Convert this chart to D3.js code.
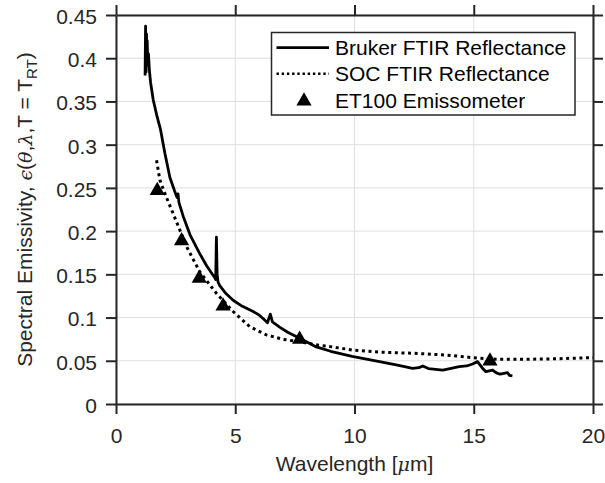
<!DOCTYPE html>
<html>
<head>
<meta charset="utf-8">
<script src="https://cdn.jsdelivr.net/npm/d3@7"></script>
<style>
  html, body { margin: 0; padding: 0; background: #fff; }
  svg { display: block; font-family: "Liberation Sans", Arial, Helvetica, sans-serif; }
</style>
</head>
<body>
<svg id="chart" width="605" height="483"></svg>
<script>
// ---- Data ----
const brukerWavelength = [1.22, 1.24, 1.26, 1.28, 1.29, 1.31, 1.33, 1.36, 1.40, 1.45, 1.56, 1.70, 1.87, 2.05, 2.26, 2.45, 2.56, 2.60, 2.64, 2.82, 3.10, 3.51, 3.80, 4.14, 4.18, 4.21, 4.24, 4.28, 4.35, 4.60, 4.91, 5.30, 5.75, 6.00, 6.20, 6.35, 6.47, 6.56, 6.86, 7.20, 7.70, 8.40, 9.00, 9.90, 11.05, 11.80, 12.44, 12.70, 12.86, 13.10, 13.70, 14.00, 14.39, 14.70, 14.95, 15.16, 15.35, 15.51, 15.79, 15.95, 16.07, 16.20, 16.42, 16.50, 16.62];
const brukerEmissivity = [0.380, 0.437, 0.384, 0.428, 0.392, 0.420, 0.394, 0.405, 0.386, 0.372, 0.352, 0.335, 0.317, 0.290, 0.262, 0.247, 0.239, 0.243, 0.233, 0.217, 0.196, 0.174, 0.160, 0.146, 0.144, 0.193, 0.150, 0.141, 0.137, 0.128, 0.120, 0.113, 0.107, 0.103, 0.098, 0.094, 0.104, 0.095, 0.089, 0.083, 0.076, 0.066, 0.061, 0.055, 0.049, 0.045, 0.0413, 0.042, 0.044, 0.041, 0.0393, 0.041, 0.0432, 0.044, 0.0463, 0.049, 0.042, 0.0374, 0.0393, 0.036, 0.0347, 0.035, 0.0362, 0.033, 0.0324];

const socWavelength = [1.70, 1.84, 2.10, 2.40, 2.96, 3.51, 4.21, 4.91, 5.61, 6.30, 7.00, 7.70, 8.50, 9.09, 9.90, 11.00, 12.44, 13.84, 15.23, 16.07, 17.00, 18.02, 19.00, 20.00];
const socEmissivity  = [0.282, 0.259, 0.240, 0.220, 0.182, 0.153, 0.128, 0.107, 0.0894, 0.080, 0.0748, 0.072, 0.068, 0.066, 0.0625, 0.060, 0.0587, 0.0567, 0.0529, 0.0517, 0.0518, 0.052, 0.0528, 0.0536];

const et100Wavelength = [1.73, 2.75, 3.49, 4.49, 7.70, 15.68];
const et100Emissivity = [0.248, 0.190, 0.1466, 0.1145, 0.076, 0.0509];

const xTicks = [0, 5, 10, 15, 20];
const yTicks = [0, 0.05, 0.1, 0.15, 0.2, 0.25, 0.3, 0.35, 0.4, 0.45];
const yTickLabels = ["0", "0.05", "0.1", "0.15", "0.2", "0.25", "0.3", "0.35", "0.4", "0.45"];
const legendLabels = ["Bruker FTIR Reflectance", "SOC FTIR Reflectance", "ET100 Emissometer"];

// ---- Layout ----
const W = 605, H = 483;
const margin = { left: 116, right: 12, top: 15, bottom: 79 };
const iw = W - margin.left - margin.right;
const ih = H - margin.top - margin.bottom;
const axisColor = "#262626";
const FS = 21;

const svg = d3.select("#chart");
const g = svg.append("g").attr("transform", `translate(${margin.left},${margin.top})`);

const x = d3.scaleLinear().domain([0, 20]).range([0, iw]);
const y = d3.scaleLinear().domain([0, 0.45]).range([ih, 0]);

// grid
g.append("g").selectAll("line").data(xTicks).join("line")
  .attr("x1", d => x(d)).attr("x2", d => x(d)).attr("y1", 0).attr("y2", ih)
  .attr("stroke", "#dfdfdf").attr("stroke-width", 1);
g.append("g").selectAll("line").data(yTicks).join("line")
  .attr("x1", 0).attr("x2", iw).attr("y1", d => y(d)).attr("y2", d => y(d))
  .attr("stroke", "#dfdfdf").attr("stroke-width", 1);

// data
const bruker = brukerWavelength.map((w, i) => [w, brukerEmissivity[i]]);
const soc = socWavelength.map((w, i) => [w, socEmissivity[i]]);
const et100 = et100Wavelength.map((w, i) => [w, et100Emissivity[i]]);

const line = d3.line().x(d => x(d[0])).y(d => y(d[1]));

g.append("path").datum(soc).attr("d", line)
  .attr("fill", "none").attr("stroke", "#000").attr("stroke-width", 3)
  .attr("stroke-dasharray", "3,3.6");

g.append("path").datum(bruker).attr("d", line)
  .attr("fill", "none").attr("stroke", "#000").attr("stroke-width", 2.8)
  .attr("stroke-linejoin", "round");

const tri = d3.symbol().type(d3.symbolTriangle).size(100);
g.append("g").selectAll("path").data(et100).join("path")
  .attr("d", tri)
  .attr("transform", d => `translate(${x(d[0])},${y(d[1]) + 1})`)
  .attr("fill", "#000");

// axes
function styleAxis(sel) {
  sel.select(".domain").attr("stroke", axisColor).attr("stroke-width", 2);
  sel.selectAll(".tick line").attr("stroke", axisColor).attr("stroke-width", 2);
  sel.selectAll(".tick text").attr("fill", axisColor).attr("font-size", FS)
    .attr("font-family", '"Liberation Sans", Arial, sans-serif');
}
const xAxis = g.append("g").attr("transform", `translate(0,${ih})`)
  .call(d3.axisBottom(x).tickValues(xTicks).tickFormat(d3.format("d")).tickSize(10).tickSizeOuter(0).tickPadding(14));
styleAxis(xAxis);
const xAxisTop = g.append("g")
  .call(d3.axisTop(x).tickValues(xTicks).tickFormat("").tickSize(10).tickSizeOuter(0));
styleAxis(xAxisTop);
const yAxis = g.append("g")
  .call(d3.axisLeft(y).tickValues(yTicks).tickFormat((d, i) => yTickLabels[i]).tickSize(10).tickSizeOuter(0).tickPadding(9));
styleAxis(yAxis);
yAxis.selectAll(".tick text").attr("dy", "0.4em");
const yAxisRight = g.append("g").attr("transform", `translate(${iw},0)`)
  .call(d3.axisRight(y).tickValues(yTicks).tickFormat("").tickSize(10).tickSizeOuter(0));
styleAxis(yAxisRight);

// axis labels
const xl = svg.append("text")
  .attr("x", margin.left + iw / 2).attr("y", 471)
  .attr("text-anchor", "middle").attr("font-size", FS).attr("fill", axisColor);
xl.append("tspan").text("Wavelength [");
xl.append("tspan").attr("font-family", '"DejaVu Serif", serif').attr("font-style", "italic").attr("font-size", 19).text("μ");
xl.append("tspan").text("m]");

const yl = svg.append("text")
  .attr("transform", `translate(32,${margin.top + ih / 2}) rotate(-90)`)
  .attr("text-anchor", "middle").attr("font-size", FS).attr("fill", axisColor);
yl.append("tspan").text("Spectral Emissivity, ");
yl.append("tspan").attr("font-family", '"DejaVu Serif", serif').attr("font-style", "italic").attr("font-size", 19).text("ϵ");
yl.append("tspan").text("(");
yl.append("tspan").attr("font-family", '"DejaVu Serif", serif').attr("font-style", "italic").attr("font-size", 19).text("θ");
yl.append("tspan").text(",");
yl.append("tspan").attr("font-family", '"DejaVu Serif", serif').attr("font-style", "italic").attr("font-size", 19).text("λ");
yl.append("tspan").text(",T = T");
yl.append("tspan").attr("font-size", 15).attr("dy", 5).text("RT");
yl.append("tspan").attr("dy", -5).text(")");

// legend
const lg = svg.append("g");
lg.append("rect").attr("x", 271.5).attr("y", 32.5).attr("width", 303.5).attr("height", 82.5)
  .attr("fill", "#fff").attr("stroke", axisColor).attr("stroke-width", 1.5);
const rowsY = [47.7, 73.7, 100];
lg.append("line").attr("x1", 276.5).attr("x2", 329).attr("y1", rowsY[0]).attr("y2", rowsY[0])
  .attr("stroke", "#000").attr("stroke-width", 2.8);
lg.append("line").attr("x1", 276.5).attr("x2", 329).attr("y1", rowsY[1]).attr("y2", rowsY[1])
  .attr("stroke", "#000").attr("stroke-width", 2.5).attr("stroke-dasharray", "2.4,2.8");
lg.append("path").attr("d", tri).attr("transform", `translate(304,${rowsY[2] + 1})`).attr("fill", "#000");
lg.selectAll("text").data(legendLabels).join("text")
  .attr("x", 335).attr("y", (d, i) => rowsY[i] + 7.5)
  .attr("font-size", FS).attr("fill", "#000").text(d => d);
</script>
</body>
</html>
